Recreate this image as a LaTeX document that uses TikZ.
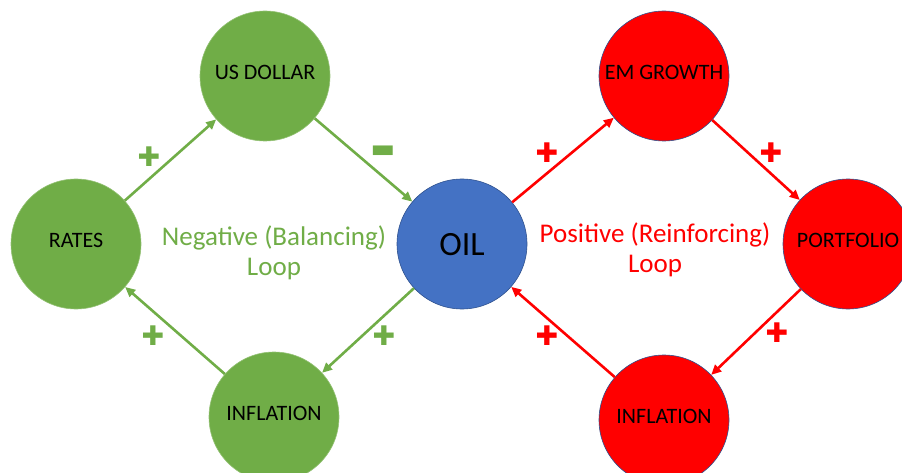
\documentclass[tikz,border=0pt]{standalone}
\usepackage{fontspec}
\setmainfont{Carlito}
\newfontfamily\symfont{DejaVu Sans}
\usetikzlibrary{arrows.meta,positioning}
\definecolor{loopgreen}{HTML}{70AD47}
\definecolor{loopred}{HTML}{FF0000}
\definecolor{oilblue}{HTML}{4472C4}
\definecolor{rimblue}{HTML}{2F528F}

\begin{document}
\begin{tikzpicture}[x=1pt,y=-1pt,
  var/.style={circle,minimum size=130pt,inner sep=0pt,text depth=7pt,text=black,font=\fontsize{22}{24}\selectfont},
  balnode/.style={var,fill=loopgreen,draw=loopgreen!75!white,line width=0.6pt},
  reinnode/.style={var,fill=loopred,draw=rimblue,line width=0.6pt},
  feedback/.style={line width=2.6pt,-{Triangle[length=10pt,width=9pt]}},
  looptext/.style={align=center,font=\fontsize{27}{30}\selectfont},
  polarity/.style={font=\symfont\fontsize{27}{27}\selectfont}]
  \useasboundingbox (0,0) rectangle (902,473);
  \clip (0,0) rectangle (902,473);
  % balancing loop
  \node[balnode] (usd) at (265,76) {US DOLLAR};
  \node[balnode] (rates) at (76,244) {RATES};
  \node[balnode] (inflg) at (274,417) {INFLATION};
  \node[var,fill=oilblue,draw=rimblue,line width=0.6pt,text depth=0pt,font=\fontsize{34}{36}\selectfont] (oil) at (462,244) {OIL};
  % reinforcing loop
  \node[reinnode] (emg) at (664,76) {EM GROWTH};
  \node[reinnode] (port) at (848,244) {PORTFOLIO};
  \node[reinnode] (inflr) at (664,420) {INFLATION};
  \node[looptext,text=loopgreen] (negloop) at (274,253) {Negative (Balancing)\\Loop};
  \node[looptext,text=loopred] (posloop) at (655,250) {Positive (Reinforcing)\\Loop};
  \draw[feedback,loopgreen] (rates) -- (usd);
  \draw[feedback,loopgreen] (usd) -- (oil);
  \draw[feedback,loopgreen] (oil) -- (inflg);
  \draw[feedback,loopgreen] (inflg) -- (rates);
  \draw[feedback,loopred] (oil) -- (emg);
  \draw[feedback,loopred] (emg) -- (port);
  \draw[feedback,loopred] (port) -- (inflr);
  \draw[feedback,loopred] (inflr) -- (oil);
  % signs
  \node[polarity,text=loopgreen] (s1) at (149,157) {✚};
  \node[polarity,text=loopgreen,font=\symfont\fontsize{26}{26}\selectfont] (s2) at (383,152) {▬};
  \node[polarity,text=loopgreen] (s3) at (384,336) {✚};
  \node[polarity,text=loopgreen] (s4) at (153,336) {✚};
  \node[polarity,text=loopred] (s5) at (547,153) {✚};
  \node[polarity,text=loopred] (s6) at (771,153) {✚};
  \node[polarity,text=loopred] (s7) at (777,333) {✚};
  \node[polarity,text=loopred] (s8) at (547,336) {✚};
\end{tikzpicture}
\end{document}
